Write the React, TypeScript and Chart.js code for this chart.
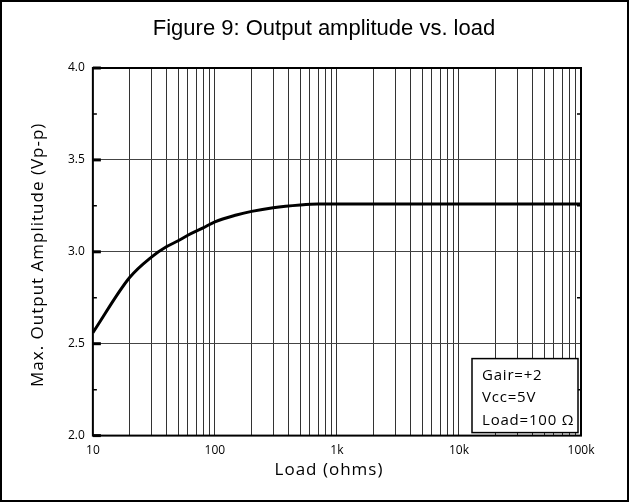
import React, { useEffect, useRef } from "react";
import { Chart, registerables } from "chart.js";

Chart.register(...registerables);

const loads = [10, 20, 30, 40, 50, 60, 80, 100, 150, 200, 300, 500, 700, 1000, 10000, 100000];
const amplitude = [2.56, 2.86, 2.97, 3.027, 3.06, 3.09, 3.13, 3.163, 3.2, 3.22, 3.24, 3.255, 3.26, 3.26, 3.26, 3.26];
const majorXTicks = [10, 100, 1000, 10000, 100000];
const xTickLabels = ["10", "100", "1k", "10k", "100k"];
const yTicks = [2.0, 2.5, 3.0, 3.5, 4.0];
const yMinorTicks = [2.25, 2.75, 3.25, 3.75];
const noteLines = ["Gair=+2", "Vcc=5V", "Load=100 Ω"];
const titleText = "Figure 9: Output amplitude vs. load";
const xTitle = "Load (ohms)";
const yTitle = "Max. Output Amplitude (Vp-p)";

const axisFont = "'Open Sans', 'DejaVu Sans', sans-serif";

const allXTicks: number[] = [];
for (let e = 1; e <= 5; e++) {
  for (let m = 1; m <= 9; m++) {
    const v = m * Math.pow(10, e);
    if (v <= 100000) allXTicks.push(v);
  }
}

const decorPlugin = {
  id: "decor",
  afterDraw(chart: any) {
    const ctx = chart.ctx;
    const { left, right, top, bottom } = chart.chartArea;
    const ys = chart.scales.y;
    ctx.save();
    ctx.strokeStyle = "#000";
    ctx.lineWidth = 2;
    ctx.strokeRect(left, top, right - left, bottom - top);
    ctx.lineWidth = 1.5;
    yMinorTicks.forEach((v) => {
      const py = ys.getPixelForValue(v);
      ctx.beginPath();
      ctx.moveTo(left, py);
      ctx.lineTo(left + 4, py);
      ctx.moveTo(right, py);
      ctx.lineTo(right - 4, py);
      ctx.stroke();
    });
    ctx.lineWidth = 3;
    yTicks.forEach((v) => {
      const py = ys.getPixelForValue(v);
      ctx.beginPath();
      ctx.moveTo(left, py);
      ctx.lineTo(left + 8, py);
      ctx.stroke();
    });
    const bx = right - 109;
    const by = bottom - 77;
    const bw = 106;
    const bh = 74;
    ctx.fillStyle = "#fff";
    ctx.fillRect(bx, by, bw, bh);
    ctx.lineWidth = 1.5;
    ctx.strokeRect(bx, by, bw, bh);
    ctx.fillStyle = "#000";
    ctx.font = `15px ${axisFont}`;
    (ctx as any).letterSpacing = "0.8px";
    ctx.textBaseline = "middle";
    ctx.textAlign = "left";
    noteLines.forEach((t, i) => {
      ctx.fillText(t, bx + 10, by + 17 + i * 22.5);
    });
    (ctx as any).letterSpacing = "1px";
    ctx.font = `17px ${axisFont}`;
    ctx.textAlign = "center";
    ctx.fillText(xTitle, 329, 470);
    ctx.save();
    ctx.translate(38, (top + bottom) / 2 + 3);
    ctx.rotate(-Math.PI / 2);
    ctx.fillText(yTitle, 0, 0);
    ctx.restore();
    (ctx as any).letterSpacing = "0px";
    ctx.font = `22px 'Liberation Sans', Arial, sans-serif`;
    ctx.fillText(titleText, 324, 29);
    ctx.lineWidth = 2;
    ctx.strokeRect(1, 1, chart.width - 2, chart.height - 2);
    ctx.restore();
  },
};

export default function App() {
  const ref = useRef<HTMLCanvasElement>(null);
  useEffect(() => {
    document.body.style.margin = "0";
    const chart = new Chart(ref.current!, {
      type: "line",
      data: {
        datasets: [
          {
            data: loads.map((x, i) => ({ x, y: amplitude[i] })),
            borderColor: "#000",
            borderWidth: 3,
            pointRadius: 0,
            cubicInterpolationMode: "monotone",
          },
        ],
      },
      options: {
        animation: false,
        responsive: false,
        layout: { padding: { left: 60, right: 48, top: 68, bottom: 36 } },
        plugins: {
          legend: { display: false },
          tooltip: { enabled: false },
          title: { display: false },
        },
        scales: {
          x: {
            type: "logarithmic",
            min: 10,
            max: 100000,
            afterBuildTicks: (scale: any) => {
              scale.ticks = allXTicks.map((v) => ({ value: v, major: majorXTicks.includes(v) }));
            },
            ticks: {
              autoSkip: false,
              maxRotation: 0,
              color: "#000",
              font: { family: axisFont, size: 12 },
              padding: 8,
              callback: (v: any) => {
                const idx = majorXTicks.indexOf(Number(v));
                return idx >= 0 ? xTickLabels[idx] : "";
              },
            },
            grid: { color: "#333", lineWidth: 1, drawTicks: false },
            border: { display: false },
          },
          y: {
            min: 2,
            max: 4,
            afterBuildTicks: (scale: any) => {
              scale.ticks = yTicks.map((v) => ({ value: v }));
            },
            ticks: {
              color: "#000",
              font: { family: axisFont, size: 12 },
              padding: 8,
              callback: (v: any) => Number(v).toFixed(1),
            },
            grid: { color: "#444", lineWidth: 1, drawTicks: false },
            border: { display: false },
          },
        },
      },
      plugins: [decorPlugin],
    } as any);
    return () => chart.destroy();
  }, []);
  return <canvas ref={ref} width={629} height={502} style={{ display: "block" }} />;
}
